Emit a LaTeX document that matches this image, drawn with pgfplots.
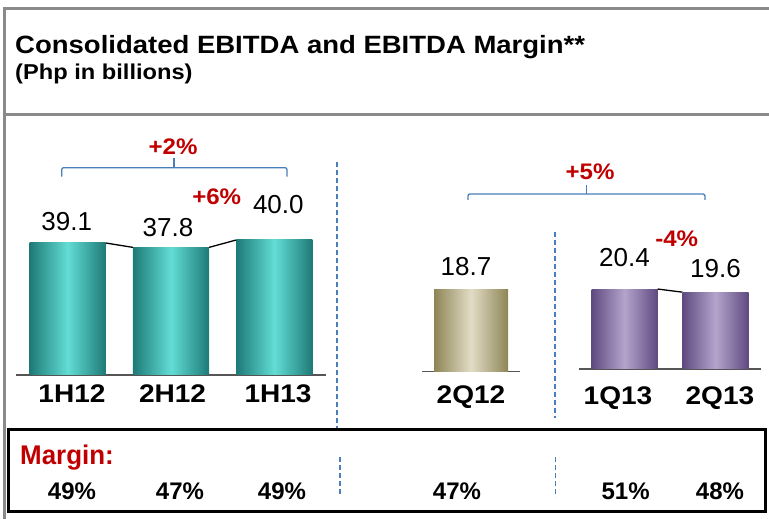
\documentclass[border=0pt]{standalone}
\usepackage{pgfplots}
\pgfplotsset{compat=1.18}
\usepackage{fontspec}
\setmainfont{Liberation Sans}
\newfontfamily\wb{Liberation Sans}[FakeStretch=1.1]
\newfontfamily\rb{Liberation Sans}[FakeStretch=1.07]
\newfontfamily\nb{Liberation Sans}[FakeStretch=0.96]
\definecolor{tealD}{HTML}{1E7A76}
\definecolor{tealL}{HTML}{62DDD5}
\definecolor{oliveD}{HTML}{8E8556}
\definecolor{oliveL}{HTML}{E2DCC6}
\definecolor{purD}{HTML}{5F4A80}
\definecolor{purL}{HTML}{B4A4CC}
\definecolor{bracket}{HTML}{4A7EBB}
\definecolor{redlab}{HTML}{C00000}
\definecolor{framec}{HTML}{8A8A8A}
\definecolor{basec}{HTML}{555555}
\tikzset{
  vlab/.style={font=\fontsize{26}{30}\selectfont, inner sep=0pt, anchor=center},
  conn/.style={black, line width=1.3pt},
}
\pgfplotsset{
  panel/.style={
    anchor=south west, scale only axis, ymin=0,
    axis x line=bottom, axis y line=none,
    x axis line style={-, basec, line width=1.5pt},
    ytick=\empty, major tick length=0pt, clip=false,
    xticklabel style={font=\wb\bfseries\fontsize{25.5}{30}\selectfont, anchor=center, inner sep=0pt},
  },
  tealbar/.style={ybar, bar width=76pt, bar shift=0pt, draw=none, left color=tealD, right color=tealD, middle color=tealL},
  olivebar/.style={ybar, bar width=74pt, bar shift=0pt, draw=none, left color=oliveD, right color=oliveD, middle color=oliveL},
  purbar/.style={ybar, bar width=66pt, bar shift=0pt, draw=none, left color=purD, right color=purD, middle color=purL},
}
\begin{document}
\begin{tikzpicture}[x=1pt,y=1pt]
\useasboundingbox (0,0) rectangle (769,519);
% frame
\draw[framec, line width=3pt] (4,0) -- (4,510.7) -- (769,510.7);
\draw[framec, line width=3pt] (4,404.7) -- (769,404.7);
\node[anchor=base west, inner sep=0] at (15,465) {\wb\bfseries\fontsize{25}{30}\selectfont Consolidated EBITDA and EBITDA Margin**};
\node[anchor=base west, inner sep=0] at (15,439) {\wb\bfseries\fontsize{21.5}{25}\selectfont (Php in billions)};

% half-year panel
\begin{axis}[panel, at={(16pt,144pt)}, width=310pt, height=168.8pt,
  xmin=-0.5, xmax=2.5, ymax=50,
  xtick={0.042,1.015,2.036}, xticklabels={1H12,2H12,1H13},
  xticklabel style={yshift=-19pt}]
\addplot[tealbar] coordinates {(0,39.1)};
\addplot[tealbar] coordinates {(1,37.8)};
\addplot[tealbar] coordinates {(2,40.0)};
\addplot[conn, mark=none] coordinates {(0.368,39.1) (0.632,37.8)};
\addplot[conn, mark=none] coordinates {(1.368,37.8) (1.632,40.0)};
\node[vlab, xshift=-1pt, yshift=21.3pt] at (axis cs:0,39.1) {39.1};
\node[vlab, xshift=-3pt, yshift=20pt] at (axis cs:1,37.8) {37.8};
\node[vlab, xshift=4pt, yshift=35pt] at (axis cs:2,40.0) {40.0};
\end{axis}

% 2Q12 panel
\begin{axis}[panel, at={(422pt,147.3pt)}, width=98pt, height=174.8pt,
  xmin=-1, xmax=1, ymax=40,
  xtick={0}, xticklabels={2Q12},
  xticklabel style={yshift=-25pt}]
\addplot[olivebar] coordinates {(0,18.7)};
\node[vlab, xshift=-5pt, yshift=23.3pt] at (axis cs:0,18.7) {18.7};
\end{axis}

% quarter panel
\begin{axis}[panel, at={(579pt,150pt)}, width=182pt, height=156.8pt,
  xmin=-0.5, xmax=1.5, ymax=40,
  xtick={-0.071,1.049}, xticklabels={1Q13,2Q13},
  xticklabel style={yshift=-29.3pt}]
\addplot[purbar] coordinates {(0,20.4)};
\addplot[purbar] coordinates {(1,19.6)};
\addplot[conn, mark=none] coordinates {(0.363,20.4) (0.637,19.6)};
\node[vlab, yshift=31pt] at (axis cs:0,20.4) {20.4};
\node[vlab, yshift=23.7pt] at (axis cs:1,19.6) {19.6};
\end{axis}

% brackets and growth labels
\draw[bracket, line width=1.3pt, rounded corners=2pt] (61.7,342.3) -- (61.7,351.3) -- (287,351.3) -- (287,342.3);
\draw[bracket, line width=1.3pt] (174,351.3) -- (174,360.7);
\draw[bracket, line width=1.3pt, rounded corners=2pt] (468,319) -- (468,325) -- (705,325) -- (705,319);
\draw[bracket, line width=1.3pt] (586.7,325) -- (586.7,334);
\begin{scope}[every node/.style={text=redlab, font=\rb\bfseries\fontsize{22.5}{26}\selectfont, inner sep=0pt, anchor=center}]
\node at (173,372.3) {+2\%};
\node at (216.7,322) {+6\%};
\node at (590,347.3) {+5\%};
\node at (676.7,280.7) {-4\%};
\end{scope}

% dashed separators
\begin{scope}[bracket, line width=1.2pt, dash pattern=on 5pt off 3pt]
\draw (337,357.3) -- (337,90.3);
\draw (340,62) -- (340,24);
\draw (555,287.3) -- (555,101);
\draw (555.6,62) -- (555.6,22);
\end{scope}

% margin box
\draw[black, line width=2.5pt] (8.3,7.3) rectangle (765.7,89.7);
\node[anchor=base west, inner sep=0, text=redlab] at (20,54) {\nb\bfseries\fontsize{27}{30}\selectfont Margin:};
\begin{scope}[every node/.style={font=\bfseries\fontsize{24}{28}\selectfont, inner sep=0pt, anchor=center}]
\node at (72,28) {49\%};
\node at (180,28) {47\%};
\node at (282,28) {49\%};
\node at (457,28) {47\%};
\node at (625.6,28) {51\%};
\node at (720,28) {48\%};
\end{scope}
\end{tikzpicture}
\end{document}
